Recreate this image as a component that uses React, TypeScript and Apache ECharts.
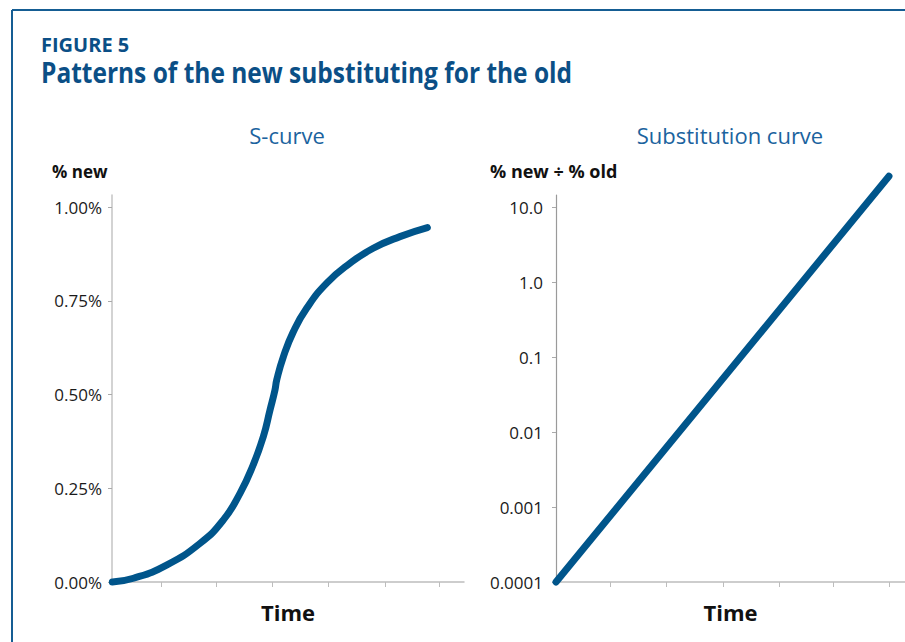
import React, { useEffect, useRef } from "react";
import * as echarts from "echarts";

// ---- data ----
const sCurveTime = [0.1, 6.1, 15.5, 25.0, 31.6, 36.4, 40.1, 43.0, 44.9, 46.3, 46.8, 48.7, 51.5, 55.3, 61.0, 67.6, 74.2, 81.8, 89.6];
const sCurveShare = [0, 0.01, 0.045, 0.103, 0.165, 0.237, 0.312, 0.388, 0.459, 0.512, 0.539, 0.601, 0.667, 0.73, 0.797, 0.85, 0.89, 0.921, 0.945];
const subTime = [0, 95.4];
const subRatio = [0.0001, 25.8];
const leftYTicks = [0, 0.25, 0.5, 0.75, 1.0];
const rightYTicks = [0.0001, 0.001, 0.01, 0.1, 1, 10];
const rightYLabels = ["0.0001", "0.001", "0.01", "0.1", "1.0", "10.0"];
const leftXTicks = [13.9, 29.5, 45.5, 61.4, 77.6, 92.9];
const rightXTicks = [15.5, 31.7, 47.8, 63.9, 79.4, 95.4];

const FONT = "'Open Sans', 'Noto Sans', sans-serif";
const BLUE = "#00558b";
const TITLE_BLUE = "#0b4f86";
const SUB_BLUE = "#1b639e";

export default function App() {
  const ref = useRef<HTMLDivElement>(null);
  useEffect(() => {
    const chart = echarts.init(ref.current!, null, { renderer: "svg" });
    const axisText = { color: "#1a1a1a", fontSize: 17, fontFamily: FONT };
    const nameStyle = { color: "#111", fontSize: 22, fontWeight: "bold", fontFamily: FONT };
    chart.setOption({
      animation: false,
      backgroundColor: "#fff",
      grid: [
        { left: 112, right: 441, top: 195, bottom: 60 },
        { left: 556, right: 0, top: 195, bottom: 60 },
      ],
      xAxis: [
        {
          gridIndex: 0, type: "value", min: 0, max: 100,
          name: "Time", nameLocation: "middle", nameGap: 19, nameTextStyle: nameStyle,
          axisLine: { lineStyle: { color: "#bdbdbd", width: 1.5 } },
          axisTick: { show: true, length: 5, customValues: leftXTicks, lineStyle: { color: "#bdbdbd", width: 1 } },
          axisLabel: { show: false },
          splitLine: { show: false },
        },
        {
          gridIndex: 1, type: "value", min: 0, max: 100,
          name: "Time", nameLocation: "middle", nameGap: 19, nameTextStyle: nameStyle,
          axisLine: { lineStyle: { color: "#bdbdbd", width: 1.5 } },
          axisTick: { show: true, length: 5, customValues: rightXTicks, lineStyle: { color: "#bdbdbd", width: 1 } },
          axisLabel: { show: false },
          splitLine: { show: false },
        },
      ],
      yAxis: [
        {
          gridIndex: 0, type: "value", min: 0, max: 1.032,
          axisLine: { show: true, lineStyle: { color: "#c4c4c4", width: 1.5 } },
          axisTick: { show: true, length: 4, customValues: leftYTicks, lineStyle: { color: "#aaa" } },
          axisLabel: { ...axisText, margin: 10, customValues: leftYTicks, formatter: (v: number) => v.toFixed(2) + "%" },
          splitLine: { show: false },
        },
        {
          gridIndex: 1, type: "log", logBase: 10, min: 0.0001, max: 14.5,
          axisLine: { show: true, lineStyle: { color: "#9a9a9a", width: 1.2 } },
          axisTick: { show: true, length: 4, customValues: rightYTicks, lineStyle: { color: "#aaa" } },
          axisLabel: {
            ...axisText, margin: 13, customValues: rightYTicks,
            formatter: (v: number) => {
              const i = rightYTicks.findIndex((t) => Math.abs(Math.log10(t) - Math.log10(v)) < 1e-6);
              return i >= 0 ? rightYLabels[i] : "";
            },
          },
          splitLine: { show: false },
        },
      ],
      series: [
        {
          type: "line", xAxisIndex: 0, yAxisIndex: 0, smooth: 0.5, showSymbol: false, clip: false,
          data: sCurveTime.map((t, i) => [t, sCurveShare[i]]),
          lineStyle: { color: BLUE, width: 7, cap: "round", join: "round" },
        },
        {
          type: "line", xAxisIndex: 1, yAxisIndex: 1, showSymbol: false, clip: false,
          data: subTime.map((t, i) => [t, subRatio[i]]),
          lineStyle: { color: BLUE, width: 7, cap: "round", join: "round" },
        },
      ],
      graphic: [
        { type: "line", shape: { x1: 12, y1: 10, x2: 905, y2: 10 }, style: { stroke: "#155d93", lineWidth: 2 } },
        { type: "line", shape: { x1: 12, y1: 10, x2: 12, y2: 642 }, style: { stroke: "#155d93", lineWidth: 2 } },
        { type: "text", x: 41, y: 34, style: { text: "FIGURE 5", fill: TITLE_BLUE, font: `bold 20px ${FONT}` } },
        { type: "text", x: 41, y: 58, scaleX: 0.875, style: { text: "Patterns of the new substituting for the old", fill: TITLE_BLUE, font: `bold 28px ${FONT}` } },
        { type: "text", x: 287, y: 135, style: { text: "S-curve", fill: SUB_BLUE, font: `22px ${FONT}`, align: "center", verticalAlign: "middle" } },
        { type: "text", x: 730, y: 135, style: { text: "Substitution curve", fill: SUB_BLUE, font: `22px ${FONT}`, align: "center", verticalAlign: "middle" } },
        { type: "text", x: 52, y: 171, style: { text: "% new", fill: "#111", font: `bold 17px ${FONT}`, verticalAlign: "middle" } },
        { type: "text", x: 490, y: 171, style: { text: "% new \u00f7 % old", fill: "#111", font: `bold 18px ${FONT}`, verticalAlign: "middle" } },
      ],
    });
    return () => chart.dispose();
  }, []);
  return <div ref={ref} style={{ position: "fixed", left: 0, top: 0, width: 905, height: 642 }} />;
}
